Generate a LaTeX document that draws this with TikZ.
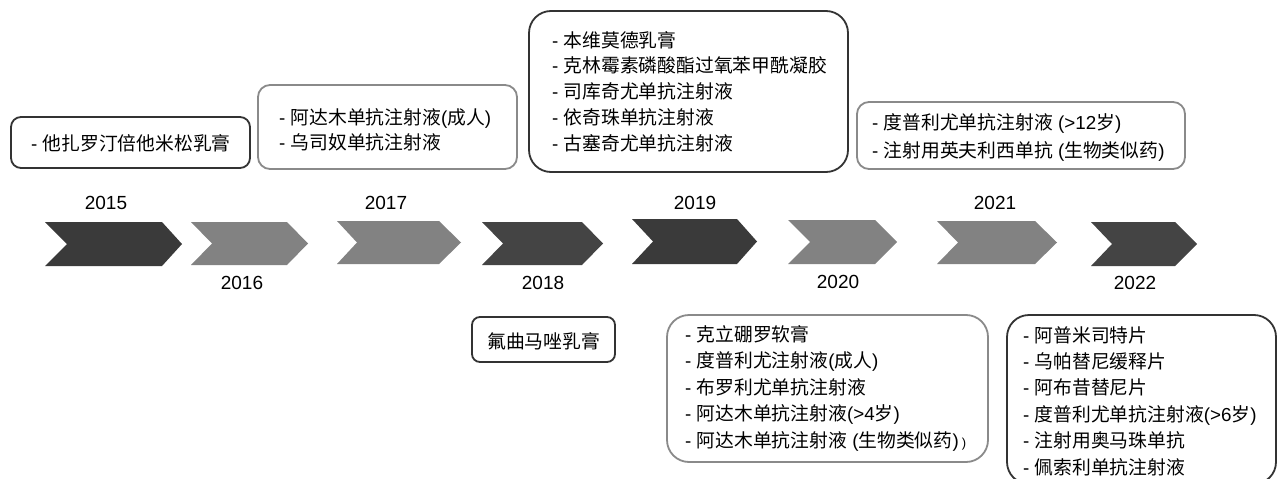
\documentclass[tikz,border=0pt]{standalone}
\usepackage{fontspec}
\setmainfont{Liberation Sans}
\newfontfamily\cjkfont{Noto Sans CJK SC}
\newcommand{\cn}[1]{{\cjkfont #1}}
\definecolor{chdark}{HTML}{3A3A3A}
\definecolor{chdarkb}{HTML}{444444}
\definecolor{chmid}{HTML}{828282}
\definecolor{boxdark}{HTML}{333333}
\definecolor{boxgray}{HTML}{8A8A8A}
\begin{document}
\begin{tikzpicture}[x=1pt,y=-1pt,
  box/.style={draw, line width=1.8pt, inner sep=0pt, fill=white},
  dbox/.style={box, draw=boxdark},
  gbox/.style={box, draw=boxgray},
  txt/.style={anchor=west, align=left, inner sep=0pt, text=black},
  yr/.style={font=\fontsize{19}{19}\selectfont, inner sep=0pt, text=black}
]
\useasboundingbox (0,0) rectangle (1277,479);
\fill[white] (0,0) rectangle (1277,479);

% chevrons
\foreach \L/\R/\S/\N/\T/\B/\c in {
  45/182/162/67/222/266/chdark,
  191/308/287/212/222/265/chmid,
  337/461/439/357/221/264/chmid,
  482/603/582/503/222/265/chdarkb,
  632/757/737/653/219/264/chdark,
  788/897/875/810/220/264/chmid,
  937/1057/1035/958/221/264/chmid,
  1091/1197/1175/1112/222/266/chdarkb}
  \fill[\c] (\L,\T) -- (\S,\T) -- (\R,{(\T+\B)/2}) -- (\S,\B) -- (\L,\B) -- (\N,{(\T+\B)/2}) -- cycle;

% year labels
\node[yr] (y15) at (106,203) {2015};
\node[yr] (y16) at (242,283) {2016};
\node[yr] (y17) at (386,203) {2017};
\node[yr] (y18) at (543,283) {2018};
\node[yr] (y19) at (695,203) {2019};
\node[yr] (y20) at (838,282) {2020};
\node[yr] (y21) at (995,203) {2021};
\node[yr] (y22) at (1135,283) {2022};

% boxes
\node[dbox, rounded corners=10pt, minimum width=239pt, minimum height=51pt] (b15) at (130.5,142.5) {};
\node[txt, font=\fontsize{18.8}{25}\selectfont] (t15) at (31,143) {- \cn{他扎罗汀倍他米松乳膏}};

\node[gbox, rounded corners=12pt, minimum width=259pt, minimum height=84pt] (b17) at (387.5,127) {};
\node[txt, font=\fontsize{18.8}{25}\selectfont] (t17) at (279,129.5) {- \cn{阿达木单抗注射液}(\cn{成人})\\- \cn{乌司奴单抗注射液}};

\node[dbox, rounded corners=22pt, minimum width=319pt, minimum height=161pt] (b19) at (688.5,91.5) {};
\node[txt, font=\fontsize{18.8}{25.75}\selectfont] (t19) at (552,91.5) {- \cn{本维莫德乳膏}\\- \cn{克林霉素磷酸酯过氧苯甲酰凝胶}\\- \cn{司库奇尤单抗注射液}\\- \cn{依奇珠单抗注射液}\\- \cn{古塞奇尤单抗注射液}};

\node[gbox, rounded corners=12pt, minimum width=328pt, minimum height=67pt] (b21) at (1021,135.5) {};
\node[txt, font=\fontsize{18.8}{28}\selectfont] (t21) at (872,137.5) {- \cn{度普利尤单抗注射液} (>12\cn{岁})\\- \cn{注射用英夫利西单抗} (\cn{生物类似药})};

\node[dbox, rounded corners=8pt, minimum width=143pt, minimum height=45pt] (b18) at (543.5,339.5) {};
\node[txt, font=\fontsize{18.8}{25}\selectfont] (t18) at (487,341) {\cn{氟曲马唑乳膏}};

\node[gbox, rounded corners=22pt, minimum width=321pt, minimum height=147pt] (b20) at (827.5,388.5) {};
\node[txt, font=\fontsize{18.8}{26.5}\selectfont] (t20) at (685,388) {- \cn{克立硼罗软膏}\\- \cn{度普利尤注射液}(\cn{成人})\\- \cn{布罗利尤单抗注射液}\\- \cn{阿达木单抗注射液}(>4\cn{岁})\\- \cn{阿达木单抗注射液} (\cn{生物类似药})\,{\fontsize{13}{13}\selectfont )}};

\node[dbox, rounded corners=22pt, minimum width=269pt, minimum height=169pt] (b22) at (1141.5,399.5) {};
\node[txt, font=\fontsize{18.8}{26.4}\selectfont] (t22) at (1023,401) {- \cn{阿普米司特片}\\- \cn{乌帕替尼缓释片}\\- \cn{阿布昔替尼片}\\- \cn{度普利尤单抗注射液}(>6\cn{岁})\\- \cn{注射用奥马珠单抗}\\- \cn{佩索利单抗注射液}};
\end{tikzpicture}
\end{document}
